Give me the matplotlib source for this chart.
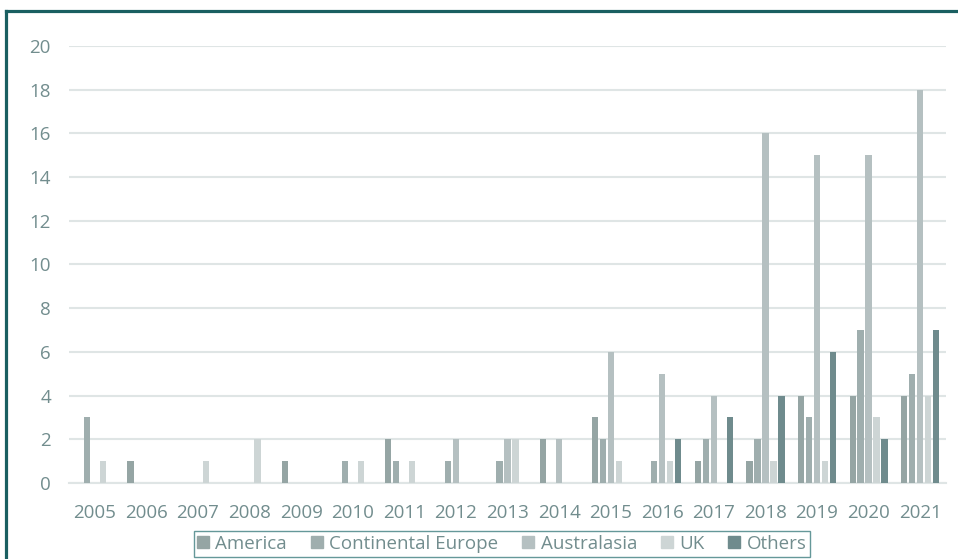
import numpy as np
import matplotlib
matplotlib.use("Agg")
import matplotlib.pyplot as plt
from matplotlib.lines import Line2D

years = [str(y) for y in range(2005, 2022)]
series = ["America", "Continental Europe", "Australasia", "UK", "Others"]
america = [0, 1, 0, 0, 1, 0, 2, 0, 0, 2, 3, 0, 1, 1, 4, 4, 4]
cont_europe = [3, 0, 0, 0, 0, 1, 1, 1, 1, 0, 2, 1, 2, 2, 3, 7, 5]
australasia = [0, 0, 0, 0, 0, 0, 0, 2, 2, 2, 6, 5, 4, 16, 15, 15, 18]
uk = [1, 0, 1, 2, 0, 1, 1, 0, 2, 0, 1, 1, 0, 1, 1, 3, 4]
others = [0, 0, 0, 0, 0, 0, 0, 0, 0, 0, 0, 2, 3, 4, 6, 2, 7]
colors = ["#95a5a4", "#9faeae", "#b5c0c1", "#cdd5d5", "#6f8b8d"]

plt.rcParams["font.family"] = ["Open Sans", "DejaVu Sans"]
text_col = "#728d8e"

fig = plt.figure(figsize=(9.58, 5.59), dpi=100)
ax = fig.add_axes([0.072, 0.136, 0.9155, 0.7817])

x = np.arange(len(years))
step = 8 / 51.64
width = 6.3 / 51.64
for i, (vals, c) in enumerate(zip([america, cont_europe, australasia, uk, others], colors)):
    ax.bar(x + (i - 2) * step, vals, width=width, color=c, label=series[i], zorder=3)

ax.set_xlim(-0.5, len(years) - 0.5)
ax.set_ylim(0, 20)
ax.set_yticks(range(0, 21, 2))
ax.set_xticks(x)
ax.set_xticklabels(years)
ax.grid(axis="y", color="#dfe5e5", linewidth=1.5, zorder=0)
for s in ["top", "right", "left"]:
    ax.spines[s].set_visible(False)
ax.spines["bottom"].set_color("#dfe5e5")
ax.spines["bottom"].set_linewidth(1.5)
ax.tick_params(axis="y", length=0, pad=13, labelsize=13.5, labelcolor=text_col)
ax.tick_params(axis="x", length=0, pad=15, labelsize=13.5, labelcolor=text_col)

handles = [Line2D([], [], marker="s", linestyle="none", markersize=8, color=c) for c in colors]
leg = fig.legend(handles, series, loc="upper center", bbox_to_anchor=(0.524, 0.05),
                 ncol=5, frameon=True, fancybox=False, fontsize=13.5,
                 handlelength=0.6, handletextpad=0.35, columnspacing=1.3,
                 borderpad=0.2, borderaxespad=0, labelcolor=text_col)
leg.get_frame().set_edgecolor("#3f7f80")
leg.get_frame().set_linewidth(1.0)

# dark teal frame on top and left
fig.add_artist(Line2D([5.5 / 958, 1.0], [1 - 11.3 / 559, 1 - 11.3 / 559], color="#1a5f61", linewidth=2.3))
fig.add_artist(Line2D([5.5 / 958, 5.5 / 958], [0.0, 1 - 11.3 / 559], color="#1a5f61", linewidth=2.3))

fig.savefig("out.png", dpi=100)
